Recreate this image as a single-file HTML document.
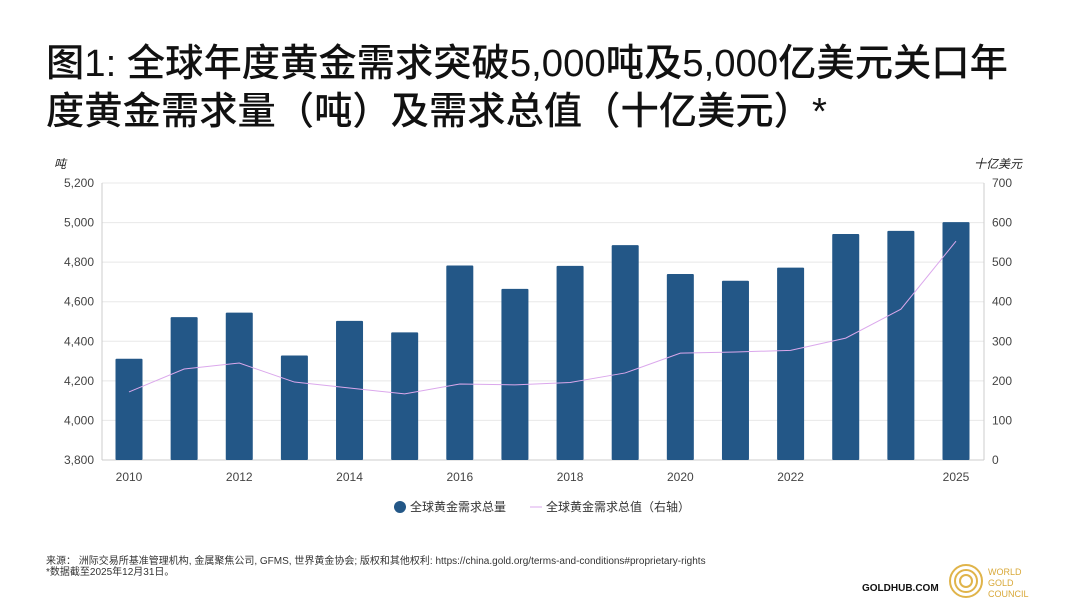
<!DOCTYPE html>
<html><head><meta charset="utf-8"><style>
body{margin:0;width:1080px;height:608px;background:#fff;overflow:hidden;font-family:"Liberation Sans","Noto Sans CJK SC",sans-serif;position:relative}
.title{position:absolute;left:46px;top:40px;font-size:38.3px;line-height:48px;color:#111;font-family:"Liberation Sans","Noto Sans CJK SC",sans-serif;font-weight:500;white-space:nowrap}
.src{position:absolute;left:46px;top:556px;font-size:10px;line-height:11px;color:#333;white-space:nowrap}
.logo{position:absolute;left:862px;top:583px;font-size:10px;font-weight:bold;color:#111}
</style></head><body>
<div class="title">图1: 全球年度黄金需求突破5,000吨及5,000亿美元关口年<br>度黄金需求量（吨）及需求总值（十亿美元）*</div>
<svg id="c" width="1080" height="608" style="position:absolute;left:0;top:0"></svg>
<div class="src">来源： 洲际交易所基准管理机构, 金属聚焦公司, GFMS, 世界黄金协会; 版权和其他权利: https://china.gold.org/terms-and-conditions#proprietary-rights<br>*数据截至2025年12月31日。</div>
<div class="logo">GOLDHUB.COM</div>
<svg style="position:absolute;left:948px;top:563px" width="90" height="40">
<circle cx="18" cy="18" r="16" fill="none" stroke="#e0b44a" stroke-width="2"/><circle cx="18" cy="18" r="11" fill="none" stroke="#e0b44a" stroke-width="2"/><circle cx="18" cy="18" r="6" fill="none" stroke="#e0b44a" stroke-width="2"/>
<text x="40" y="12" font-size="9" fill="#d9a93a" font-family="Liberation Sans">WORLD</text><text x="40" y="23" font-size="9" fill="#d9a93a" font-family="Liberation Sans">GOLD</text><text x="40" y="34" font-size="9" fill="#d9a93a" font-family="Liberation Sans">COUNCIL</text></svg>
<script>
const years=[2010,2011,2012,2013,2014,2015,2016,2017,2018,2019,2020,2021,2022,2023,2024,2025];
const tonnes=[4312,4522,4545,4328,4503,4445,4783,4665,4781,4886,4740,4706,4772,4942,4958,5002];
const valueUSD=[172,230,245,197,182,167,192,190,196,220,270,273,277,308,381,553];
const leftTicks=[3800,4000,4200,4400,4600,4800,5000,5200];
const rightTicks=[0,100,200,300,400,500,600,700];
const xLabels=[2010,2012,2014,2016,2018,2020,2022,2025];
const svg=document.getElementById('c'),NS='http://www.w3.org/2000/svg';
const L=102,R=984,T=183,B=460;
const yL=v=>B-(v-3800)/1400*(B-T);
const yR=v=>B-v/700*(B-T);
const x=i=>129+i*(956-129)/15;
function mk(t,a,p){const e=document.createElementNS(NS,t);for(const k in a)e.setAttribute(k,a[k]);(p||svg).appendChild(e);return e;}
leftTicks.forEach((v,i)=>{
 const g=mk('line',{x1:L,x2:R,y1:yL(v),y2:yL(v),stroke:'#e8e8e8','stroke-width':1});
 
 
 const t=mk('text',{x:94,y:yL(v)+4,'text-anchor':'end','font-size':12,fill:'#444'});t.textContent=v.toLocaleString('en-US');
 
 
});
rightTicks.forEach(v=>{
 const t=mk('text',{x:992,y:yR(v)+4,'font-size':12,fill:'#444'});t.textContent=v;
 
 
});
mk('line',{x1:L,x2:L,y1:T,y2:B,stroke:'#ccc'});
mk('line',{x1:R,x2:R,y1:T,y2:B,stroke:'#ccc'});
mk('line',{x1:L,x2:R,y1:B,y2:B,stroke:'#ccc'});
let t=mk('text',{x:54,y:168,'font-size':12,fill:'#222','font-style':'italic'});t.textContent='吨';

t=mk('text',{x:1022,y:168,'font-size':12,fill:'#222','font-style':'italic','text-anchor':'end'});t.textContent='十亿美元';

tonnes.forEach((v,i)=>{
 const b=mk('rect',{x:x(i)-13.5,y:yL(v),width:27,height:B-yL(v),fill:'#235787',rx:1});
 
 
});
const pl=mk('polyline',{points:valueUSD.map((v,i)=>x(i)+','+yR(v)).join(' '),fill:'none',stroke:'#dba8ec','stroke-width':1});


xLabels.forEach(y=>{
 const i=years.indexOf(y);
 const tt=mk('text',{x:x(i),y:481,'text-anchor':'middle','font-size':12,fill:'#444'});tt.textContent=y;
 
 
});
const c=mk('circle',{cx:400,cy:507,r:6,fill:'#235787'});

t=mk('text',{x:410,y:511,'font-size':12,fill:'#333'});t.textContent='全球黄金需求总量';

const ll=mk('line',{x1:530,x2:542,y1:507,y2:507,stroke:'#dba8ec'});

t=mk('text',{x:546,y:511,'font-size':12,fill:'#333'});t.textContent='全球黄金需求总值（右轴）';

</script>
</body></html>
